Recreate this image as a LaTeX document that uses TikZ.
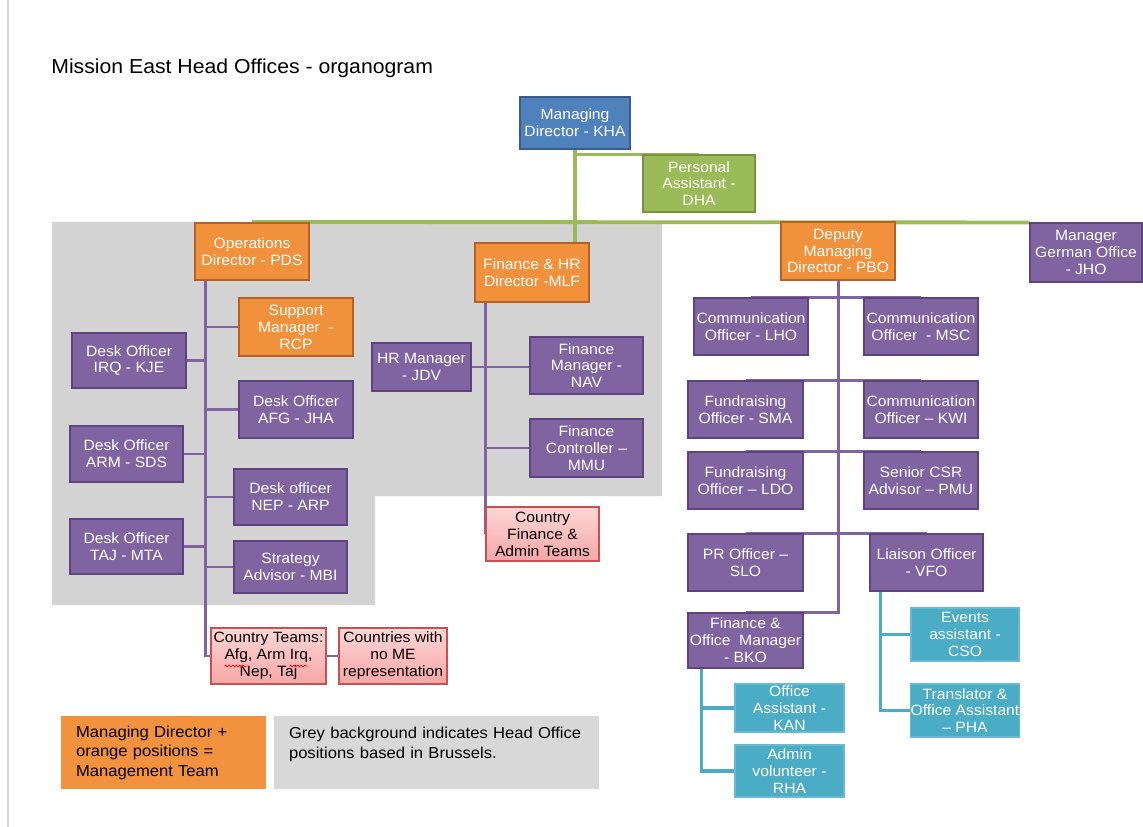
\documentclass[tikz,border=0pt]{standalone}
\usepackage{fontspec}
\setmainfont{Liberation Sans}[FakeStretch=1.05]
\usetikzlibrary{positioning,calc,shadows}
\usetikzlibrary{decorations.pathmorphing}
\pgfdeclarelayer{back}
\pgfdeclarelayer{links}
\pgfsetlayers{back,links,main}

\definecolor{mdblue}{RGB}{79,129,189}
\definecolor{mdblueline}{RGB}{56,93,138}
\definecolor{pagreen}{RGB}{155,187,89}
\definecolor{pagreenline}{RGB}{118,146,60}
\definecolor{mgtorange}{RGB}{242,145,60}
\definecolor{mgtorangeline}{RGB}{182,96,38}
\definecolor{staffpurple}{RGB}{128,100,162}
\definecolor{staffpurpleline}{RGB}{92,68,124}
\definecolor{assistteal}{RGB}{75,172,198}
\definecolor{assisttealline}{RGB}{105,185,208}
\definecolor{pinktop}{RGB}{255,214,214}
\definecolor{pinkbottom}{RGB}{246,166,166}
\definecolor{countrypinkline}{RGB}{200,80,80}
\definecolor{officegrey}{RGB}{211,211,211}
\definecolor{legendgrey}{RGB}{216,216,216}
\definecolor{legendorange}{RGB}{243,146,62}

\newcommand{\boxfont}{\fontsize{8.5}{9.6}\selectfont}
\newcommand{\legendfont}{\fontsize{9}{11.1}\selectfont}

\begin{document}
\begin{tikzpicture}[x=0.02cm, y=-0.02cm,
      chart/.style = {align=center, inner sep=0pt, font=\boxfont, text=white,
         minimum width=2.28cm, minimum height=1.14cm},
      director/.style = {chart, fill=mgtorange, draw=mgtorangeline, line width=1.2pt},
      staff/.style = {chart, fill=staffpurple, draw=staffpurpleline, line width=0.6pt},
      helper/.style = {chart, fill=assistteal, draw=assisttealline, line width=0.6pt,
         minimum width=2.16cm, minimum height=1.06cm},
      country/.style = {chart, text=black, top color=pinktop, bottom color=pinkbottom,
         draw=countrypinkline, line width=0.6pt,
         drop shadow={opacity=0.2, shadow xshift=0.8pt, shadow yshift=-0.8pt}},
      legend/.style = {align=left, font=\legendfont, text=black, inner xsep=0.3cm,
         inner ysep=0pt, minimum height=1.46cm},
      purpleline/.style = {draw=staffpurple, line width=1.7pt},
      greenline/.style = {draw=pagreen, line width=2.2pt},
      tealline/.style = {draw=assistteal, line width=2pt},
      spelling/.style = {red, line width=0.4pt, decorate,
         decoration={snake, amplitude=0.5pt, segment length=2pt}}
]
   \useasboundingbox (0,0) rectangle (1143,827);
   \draw[gray!30, line width=0.8pt] (8,0) -- (8,827);

   \node[anchor=west, inner sep=0pt, font=\fontsize{11.5}{13}\selectfont] (title) at (51,68)
      {Mission East Head Offices - organogram};

   % top management
   \node[chart, fill=mdblue, draw=mdblueline, line width=0.6pt, minimum width=2.2cm,
      minimum height=1.04cm] (md) at (575,123) {Managing\\Director - KHA};
   \node[chart, fill=pagreen, draw=pagreenline, line width=0.6pt, minimum width=2.24cm]
      (pa) at (699,183.5) {Personal\\Assistant -\\DHA};
   \node[director] (ops) at (252,251.5) {Operations\\Director - PDS};
   \node[director, minimum height=1.18cm] (fin) at (532,272.5) {Finance \& HR\\Director -MLF};
   \node[director, minimum height=1.16cm] (dmd) at (838,251) {Deputy\\Managing\\Director - PBO};
   \node[staff, minimum width=2.24cm, minimum height=1.18cm] (ger) at (1086,252.5)
      {Manager\\German Office\\- JHO};

   % operations
   \node[director, minimum height=1.16cm] (rcp) at (296,327) {Support\\Manager\ \ -\\RCP};
   \node[staff, minimum height=1.1cm] (irq) at (129,360.5) {Desk Officer\\IRQ - KJE};
   \node[staff] (afg) at (296,409.5) {Desk Officer\\AFG - JHA};
   \node[staff, minimum width=2.26cm, minimum height=1.12cm] (arm) at (126.5,454) {Desk Officer\\ARM - SDS};
   \node[staff, minimum width=2.26cm, minimum height=1.12cm] (nep) at (290.5,497) {Desk officer\\NEP - ARP};
   \node[staff, minimum width=2.26cm, minimum height=1.1cm] (taj) at (126.5,546.5) {Desk Officer\\TAJ - MTA};
   \node[staff, minimum width=2.26cm, minimum height=1.04cm] (mbi) at (290.5,567) {Strategy\\Advisor - MBI};
   \node[country, minimum width=2.3cm, minimum height=1.12cm] (teams) at (268.5,656)
      {Country Teams:\\Afg, Arm Irq,\\Nep, Taj};
   \node[country, minimum width=2.16cm, minimum height=1.12cm] (nome) at (393,656)
      {Countries with\\no ME\\representation};
   \draw[spelling] ($(teams.center)+(-44,10)$) -- ++(23,0);
   \draw[spelling] ($(teams.center)+(21,10)$) -- ++(18,0);

   % finance and HR
   \node[staff, minimum width=1.98cm, minimum height=0.96cm] (hr) at (421.5,367) {HR Manager\\- JDV};
   \node[staff, minimum width=2.26cm] (nav) at (586.5,365.5) {Finance\\Manager -\\NAV};
   \node[staff, minimum width=2.26cm, minimum height=1.16cm] (mmu) at (586.5,448) {Finance\\Controller –\\MMU};
   \node[country, minimum width=2.26cm, minimum height=1.08cm] (cfa) at (542.5,534)
      {Country\\Finance \&\\Admin Teams};

   % deputy managing director
   \node[staff] (lho) at (751,326.5) {Communication\\Officer - LHO};
   \node[staff] (msc) at (921,326.5) {Communication\\Officer\ \ - MSC};
   \node[staff, minimum width=2.3cm] (sma) at (745.5,409.5) {Fundraising\\Officer - SMA};
   \node[staff] (kwi) at (921,409.5) {Communication\\Officer – KWI};
   \node[staff, minimum width=2.3cm] (ldo) at (745.5,480.5) {Fundraising\\Officer – LDO};
   \node[staff] (pmu) at (921,480.5) {Senior CSR\\Advisor – PMU};
   \node[staff, minimum width=2.3cm] (slo) at (745.5,562.5) {PR Officer –\\SLO};
   \node[staff, minimum width=2.26cm] (vfo) at (926.5,562.5) {Liaison Officer\\- VFO};
   \node[staff, minimum width=2.3cm, minimum height=1.1cm] (bko) at (745.5,640.5)
      {Finance \&\\Office\ \ Manager\\- BKO};
   \node[helper] (cso) at (965,634.5) {Events\\assistant -\\CSO};
   \node[helper] (pha) at (965,710.5) {Translator \&\\Office Assistant\\– PHA};
   \node[helper, minimum width=2.18cm, minimum height=0.96cm] (kan) at (789.5,708) {Office\\Assistant -\\KAN};
   \node[helper, minimum width=2.18cm, minimum height=1.04cm] (rha) at (789.5,771) {Admin\\volunteer -\\RHA};

   % key
   \node[legend, fill=legendorange, text width=3.5cm] (mgtkey) at (163.5,752.5)
      {Managing Director +\\orange positions =\\Management Team};
   \node[legend, fill=legendgrey, text width=5.9cm] (greykey) at (436.5,752.5)
      {Grey background indicates Head Office\\positions based in Brussels.\\\mbox{}};

   % Brussels head office
   \begin{pgfonlayer}{back}
      \fill[officegrey] (52,222) -- (662,222) -- (662,496) -- (375,496) -- (375,605)
         -- (52,605) -- cycle;
   \end{pgfonlayer}

   \begin{pgfonlayer}{links}
      % managing director
      \draw[greenline] (md.south) -- (md.south |- fin.north);
      \draw[greenline] (md.south |- pa.north) -- (pa.north);
      \draw[greenline] (ops.north) -- (ger.north west);

      % operations
      \coordinate (opsbar) at ($(ops.south west)+(12,0)$);
      \draw[purpleline] (opsbar) |- (teams.west);
      \foreach \n in {rcp,afg,nep,mbi}
         \draw[purpleline] (opsbar |- \n.west) -- (\n.west);
      \foreach \n in {irq,arm,taj}
         \draw[purpleline] (opsbar |- \n.east) -- (\n.east);
      \draw[purpleline] (teams) -- (nome);

      % finance and HR
      \coordinate (finbar) at ($(fin.south west)+(12,0)$);
      \draw[purpleline] (finbar) -- (finbar |- cfa.west);
      \draw[purpleline] (hr.east) -- (hr.east -| nav.west);
      \draw[purpleline] (finbar |- mmu.west) -- (mmu.west);

      % deputy managing director
      \draw[purpleline] (dmd.south) |- (bko.north);
      \foreach \l/\r in {lho/msc,sma/kwi,ldo/pmu,slo/vfo}
         \draw[purpleline] (\l.north) -- (\r.north);

      % assistants
      \coordinate (vfobar) at ($(vfo.south west)+(11,0)$);
      \draw[tealline] (vfobar) |- (pha.west);
      \draw[tealline] (vfobar |- cso.west) -- (cso.west);
      \coordinate (bkobar) at ($(bko.south west)+(14,0)$);
      \draw[tealline] (bkobar) |- (rha.west);
      \draw[tealline] (bkobar |- kan.west) -- (kan.west);
   \end{pgfonlayer}
\end{tikzpicture}
\end{document}
